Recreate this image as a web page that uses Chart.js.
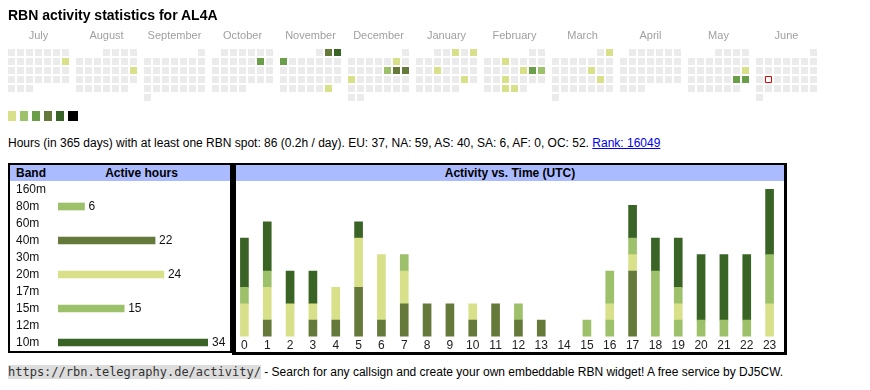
<!DOCTYPE html>
<html>
<head>
<meta charset="utf-8">
<title>RBN activity statistics for AL4A</title>
<script src="https://cdn.jsdelivr.net/npm/chart.js@4.4.1/dist/chart.umd.min.js"></script>
<style>
  body { margin: 0; background: #fff; color: #000; font: 12px "Liberation Sans", Arial, sans-serif; }
  #page { position: relative; width: 870px; height: 390px; overflow: hidden; }
  h1 { position: absolute; left: 8px; top: 8px; margin: 0; font-size: 14px; line-height: 14px; font-weight: bold; z-index: 2; }
  canvas { position: absolute; }
  #legend { position: absolute; left: 8px; top: 111px; }
  #legend span { position: absolute; top: 0; width: 8px; height: 10px; }
  #summary { position: absolute; left: 8px; top: 136px; line-height: 14px; white-space: nowrap; }
  #summary a { color: #0000ee; }
  .box { position: absolute; box-sizing: border-box; border: 2px solid #000; }
  #bandBox { left: 8px; top: 163px; width: 224px; height: 190px; }
  #timeBox { left: 232px; top: 163px; width: 555px; height: 192px; border-width: 2px 3px 3px 4px; }
  .head { position: absolute; left: 0; right: 0; top: 0; height: 16px; line-height: 16px; background: #aabbff; font-weight: bold; }
  .head span { position: absolute; top: 0; }
  #footer { position: absolute; left: 8px; top: 364px; line-height: 16px; white-space: nowrap; }
  #footer code { font: 12px "DejaVu Sans Mono", monospace; background: #dddddd; color: #333; }
</style>
</head>
<body>
<div id="page">
  <h1>RBN activity statistics for AL4A</h1>
  <canvas id="cal" width="830" height="104" style="left:0;top:0"></canvas>
  <div id="legend"></div>
  <div id="summary">Hours (in 365 days) with at least one RBN spot: 86 (0.2h / day). EU: 37, NA: 59, AS: 40, SA: 6, AF: 0, OC: 52. <a href="#">Rank: 16049</a></div>

  <div class="box" id="bandBox">
    <div class="head"><span style="left:6px">Band</span><span style="left:42px;width:179px;text-align:center">Active hours</span></div>
  </div>
  <div class="box" id="timeBox">
    <div class="head" style="text-align:center">Activity vs. Time (UTC)</div>
  </div>
  <canvas id="bands" width="220" height="170" style="left:10px;top:181px"></canvas>
  <canvas id="hours" width="551" height="174" style="left:233px;top:181px"></canvas>

  <div id="footer"><code>https://rbn.telegraphy.de/activity/</code> - Search for any callsign and create your own embeddable RBN widget! A free service by DJ5CW.</div>
</div>
<script>
Chart.defaults.font.family = '"Liberation Sans", Arial, sans-serif';
Chart.defaults.font.size = 12;

// calendar, July 2024 .. June 2025
const monthNames = ["July", "August", "September", "October", "November", "December",
  "January", "February", "March", "April", "May", "June"];
const firstYear = 2024;
const firstMonth = 6; // July (0-based)
const activeDays = ["2024-07-14", "2024-08-18", "2024-10-12", "2024-11-02", "2024-11-03",
  "2024-11-04", "2024-11-30", "2024-12-07", "2024-12-13", "2024-12-14", "2024-12-15",
  "2024-12-16", "2025-01-03", "2025-01-05", "2025-01-15", "2025-01-25", "2025-02-05",
  "2025-02-14", "2025-02-15", "2025-02-16", "2025-02-19", "2025-02-26", "2025-02-27",
  "2025-03-02", "2025-03-14", "2025-03-22", "2025-05-18", "2025-05-24", "2025-05-25"];
const activeLevels = [1, 1, 3, 4, 5, 3, 1, 1, 2, 4, 4, 1, 1, 1, 1, 1, 1, 1, 3, 2, 1, 1, 1, 1, 1, 1, 1, 3, 3];
const today = "2025-06-17";

// band table
const bands = ["160m", "80m", "60m", "40m", "30m", "20m", "17m", "15m", "12m", "10m"];
const bandHours = [0, 6, 0, 22, 0, 24, 0, 15, 0, 34];

// activity vs. time (UTC), hours per band
const utcHours = ["0", "1", "2", "3", "4", "5", "6", "7", "8", "9", "10", "11",
  "12", "13", "14", "15", "16", "17", "18", "19", "20", "21", "22", "23"];
const act80 = [0, 0, 0, 0, 0, 0, 0, 0, 0, 0, 0, 0, 0, 0, 0, 1, 1, 0, 0, 1, 1, 1, 1, 0];
const act40 = [0, 1, 0, 1, 1, 3, 1, 2, 2, 2, 1, 2, 1, 1, 0, 0, 0, 4, 0, 0, 0, 0, 0, 0];
const act20 = [2, 2, 2, 1, 2, 3, 4, 2, 0, 0, 1, 0, 0, 0, 0, 0, 1, 1, 0, 1, 0, 0, 0, 2];
const act15 = [1, 1, 0, 0, 0, 0, 0, 1, 0, 0, 0, 0, 1, 0, 0, 0, 2, 1, 4, 1, 0, 0, 0, 3];
const act10 = [3, 3, 2, 2, 0, 1, 0, 0, 0, 0, 0, 0, 0, 0, 0, 0, 0, 2, 2, 3, 4, 4, 4, 4];

//colours
const levelColors = ["#ebebeb", "#d9e08a", "#9dc06a", "#6a9e48", "#657a3a", "#3a6426", "#000000"];
const bandColors = {
  "80m": "#9dc06a", "40m": "#657a3a", "20m": "#d9e08a", "15m": "#9dc06a", "10m": "#3a6426",
  "160m": "#000", "60m": "#000", "30m": "#000", "17m": "#000", "12m": "#000"
};

// legend squares
const legend = document.getElementById("legend");
levelColors.slice(1).forEach((c, i) => {
  const s = document.createElement("span");
  s.style.left = (i * 12) + "px";
  s.style.background = c;
  if (i == 5) s.style.width = "10px";
  legend.appendChild(s);
});

//build calendar cells: column = weekday (Mon first), row = week of month
const MONTH_GAP = 5 / 9; // gap between month blocks, in columns
const pad = (n) => String(n).padStart(2, "0");
const levelByDay = {};
activeDays.forEach((d, i) => levelByDay[d] = activeLevels[i]);
const cells = [];
const cellColors = [];
let todayCell = null;
for (let m = 0; m < 12; m++) {
  const y = firstYear + Math.floor((firstMonth + m) / 12);
  const mo = (firstMonth + m) % 12;
  const nDays = new Date(Date.UTC(y, mo + 1, 0)).getUTCDate();
  const first = (new Date(Date.UTC(y, mo, 1)).getUTCDay() + 6) % 7;
  for (let d = 1; d <= nDays; d++) {
    const idx = first + d - 1;
    const key = y + "-" + pad(mo + 1) + "-" + pad(d);
    const pt = { x: m * (7 + MONTH_GAP) + idx % 7, y: Math.floor(idx / 7) };
    if (key == today) { todayCell = pt; continue; }
    cells.push(pt);
    cellColors.push(levelColors[levelByDay[key] || 0]);
  }
}

const monthLabels = {
  id: "monthLabels",
  afterDraw(chart) {
    const ctx = chart.ctx;
    const xs = chart.scales.x, ys = chart.scales.y;
    ctx.save();
    ctx.font = '11px "Liberation Sans", Arial, sans-serif';
    ctx.fillStyle = "#a0a0a0";
    ctx.textAlign = "center";
    monthNames.forEach((name, m) => {
      ctx.fillText(name, xs.getPixelForValue(m * (7 + MONTH_GAP) + 3), ys.getPixelForValue(0) - 14);
    });
    ctx.restore();
  }
};

new Chart(document.getElementById("cal"), {
  type: "scatter",
  plugins: [monthLabels],
  data: {
    datasets: [
      { data: [todayCell], pointStyle: "rect", pointRadius: 4.243, pointBackgroundColor: "#ffffff",
        pointBorderColor: "#ee0000", pointBorderWidth: 1 },
      { data: cells, pointStyle: "rect", pointRadius: 4.95, pointBackgroundColor: cellColors, pointBorderWidth: 0 }
    ]
  },
  options: {
    responsive: false,
    animation: false,
    events: [],
    layout: { padding: 0, autoPadding: false },
    plugins: { legend: { display: false }, tooltip: { enabled: false } },
    scales: {
      x: { type: "linear", display: false, min: -11.5 / 9, max: -11.5 / 9 + 830 / 9 },
      y: { type: "linear", display: false, reverse: true, min: -52.5 / 9, max: -52.5 / 9 + 104 / 9 }
    }
  }
});

// value labels next to the band bars
const barValues = {
  id: "barValues",
  afterDatasetsDraw(chart) {
    const ctx = chart.ctx;
    const meta = chart.getDatasetMeta(0);
    ctx.save();
    ctx.font = '12px "Liberation Sans", Arial, sans-serif';
    ctx.fillStyle = "#111";
    ctx.textBaseline = "middle";
    meta.data.forEach((bar, i) => {
      if (bandHours[i] > 0) ctx.fillText(bandHours[i], bar.x + 4, bar.y);
    });
    ctx.restore();
  }
};

// no hairline for empty bars
const inflate = (c) => (c.raw ? 0.33 : 0);

new Chart(document.getElementById("bands"), {
  type: "bar",
  plugins: [barValues],
  data: {
    labels: bands,
    datasets: [{ data: bandHours, backgroundColor: bands.map(b => bandColors[b]), barThickness: 7,
      borderWidth: 0, inflateAmount: inflate }]
  },
  options: {
    indexAxis: "y",
    responsive: false,
    animation: false,
    events: [],
    layout: { padding: { left: 6, right: 22, top: 0, bottom: 0 }, autoPadding: false },
    plugins: { legend: { display: false }, tooltip: { enabled: false } },
    scales: {
      x: { display: false, min: 0, max: 34 },
      y: {
        grid: { display: false, drawTicks: false },
        border: { display: false },
        ticks: { crossAlign: "far", autoSkip: false, color: "#111", padding: 0 },
        afterFit: (scale) => {
          scale.width = 42;
          scale.paddingTop = 0;
          scale.paddingBottom = 0;
        }
      }
    }
  }
});

// stacked activity bars, lowest band at the bottom
const series = [["80m", act80], ["40m", act40], ["20m", act20], ["15m", act15], ["10m", act10]];
new Chart(document.getElementById("hours"), {
  type: "bar",
  data: {
    labels: utcHours,
    datasets: series.map(([b, vals]) => ({
      label: b, data: vals, backgroundColor: bandColors[b], barThickness: 8, borderWidth: 0, inflateAmount: inflate
    }))
  },
  options: {
    responsive: false,
    animation: false,
    events: [],
    layout: { padding: { left: 0, right: 3, top: 8, bottom: 0 }, autoPadding: false },
    plugins: { legend: { display: false }, tooltip: { enabled: false } },
    scales: {
      x: {
        stacked: true,
        grid: { display: false, drawTicks: false },
        border: { display: false },
        ticks: { color: "#222", padding: 2, autoSkip: false, maxRotation: 0 }
      },
      y: { stacked: true, display: false, min: 0, max: 9 }
    }
  }
});
</script>
</body>
</html>
